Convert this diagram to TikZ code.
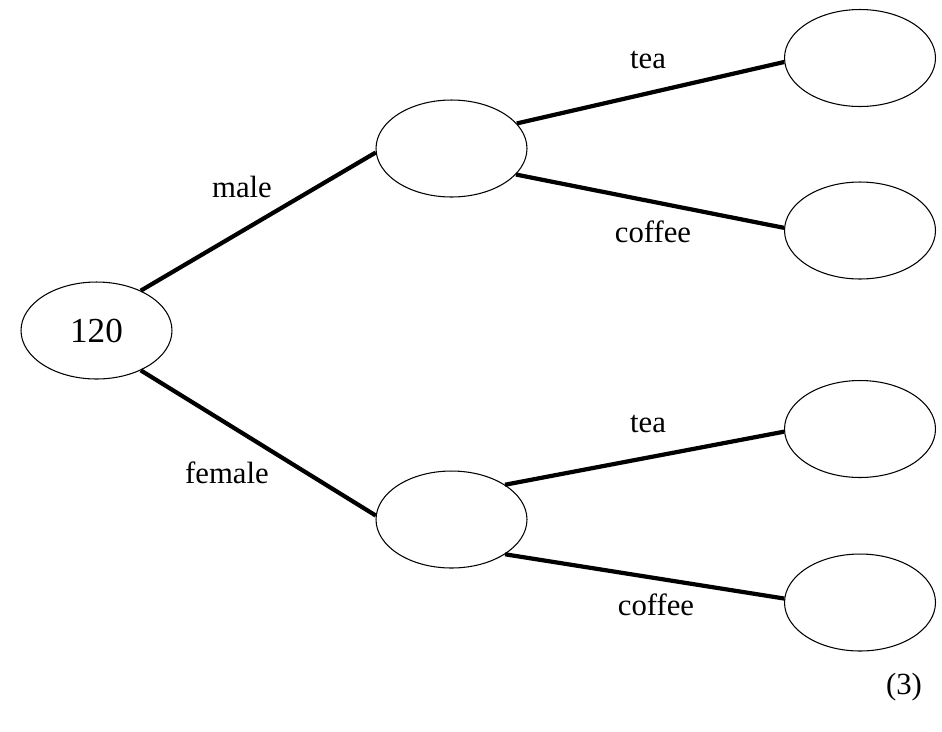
\documentclass[tikz,border=0pt]{standalone}
\usepackage{fontspec}
\setmainfont{Liberation Serif}
\newfontfamily\treefont{Liberation Serif}
\usetikzlibrary{shapes.geometric}
\begin{document}
\begin{tikzpicture}[x=0.02cm,y=-0.02cm,
	bubble/.style={draw,ellipse,line width=0.6pt,minimum width=3.02cm,minimum height=1.94cm,inner sep=0pt},
	branch/.style={line width=2.4pt},
	lbl/.style={anchor=base,font=\treefont\fontsize{17.5}{21}\selectfont}]
	\useasboundingbox (0,0) rectangle (942,731);
	% bubbles
	\node[bubble,font=\treefont\fontsize{20}{24}\selectfont] (root) at (96.5,330.5) {120};
	\node[bubble] (male) at (451.5,148.5) {};
	\node[bubble] (female) at (451.5,519.5) {};
	\node[bubble] (mtea) at (860,58) {};
	\node[bubble] (mcoffee) at (860,230.5) {};
	\node[bubble] (ftea) at (860,429) {};
	\node[bubble] (fcoffee) at (860,602.5) {};
	% branches
	\draw[branch] (root.42) -- (male.183);
	\draw[branch] (root.-42) -- (female.177);
	\draw[branch] (male.21) -- (mtea.183);
	\draw[branch] (male.-22) -- (mcoffee.178);
	\draw[branch] (female.33) -- (ftea.182);
	\draw[branch] (female.-33) -- (fcoffee.177);
	% labels
	\node[lbl] (lmale) at (242,197) {male};
	\node[lbl] (lfemale) at (227,483) {female};
	\node[lbl] (lmtea) at (648,68) {tea};
	\node[lbl] (lmcoffee) at (653,242) {coffee};
	\node[lbl] (lftea) at (648,432) {tea};
	\node[lbl] (lfcoffee) at (656,615) {coffee};
	\node[lbl] (marks) at (904,694) {(3)};
\end{tikzpicture}
\end{document}
